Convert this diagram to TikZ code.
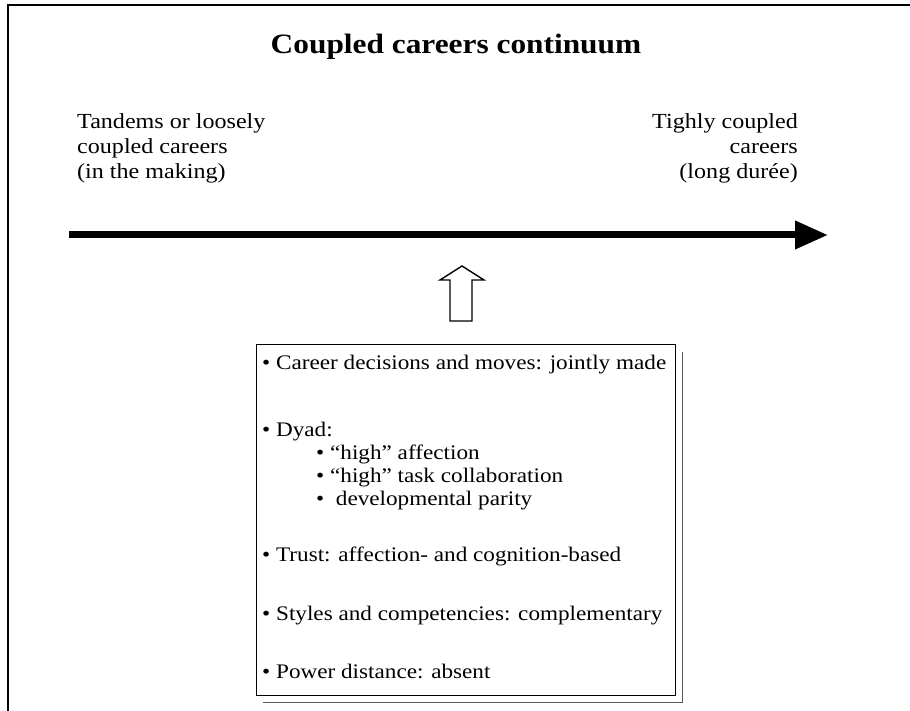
\documentclass[tikz,border=0pt]{standalone}
\usepackage{fontspec}
\setmainfont[FakeStretch=1.12]{Liberation Serif}
\usetikzlibrary{arrows.meta,calc}
\begin{document}
\begin{tikzpicture}[x=1pt,y=1pt,
  lbl/.style={inner sep=0pt, font=\fontsize{21.5}{25}\selectfont},
  boxtxt/.style={inner sep=0pt, anchor=base west, font=\fontsize{20.7}{24}\selectfont},
  bigarrow/.style={line width=7pt, -{Triangle[length=33pt,width=27pt]}},
  hollow/.style={line width=1.4pt, line join=miter, fill=white},
  frame/.style={line width=2pt}]
\useasboundingbox (0,0) rectangle (910,-711);
% frame
\coordinate (fbl) at (8,-711);
\coordinate (ftl) at (8,-5);
\coordinate (ftr) at (910,-5);
\draw[frame] (fbl) -- (ftl) -- (ftr);
% title
\node[inner sep=0pt, anchor=base, font=\fontsize{28}{30}\selectfont\bfseries] (title) at (456,-54) {Coupled careers continuum};
% left label
\node[lbl, anchor=base west] (l1) at (77,-129) {Tandems or loosely};
\node[lbl, anchor=base west] (l2) at (77,-154) {coupled careers};
\node[lbl, anchor=base west] (l3) at (77,-179) {(in the making)};
% right label
\node[lbl, anchor=base east] (r1) at (798,-129) {Tighly coupled};
\node[lbl, anchor=base east] (r2) at (798,-154) {careers};
\node[lbl, anchor=base east] (r3) at (798,-179) {(long durée)};
% continuum arrow
\coordinate (cs) at (69,-235);
\coordinate (ce) at (828,-235);
\draw[bigarrow] (cs) -- (ce);
% shadow and box
\draw[gray!70!black, line width=1pt] (263,-702) -- (682,-702) -- (682,-352);
\node[draw, line width=1.3pt, fill=white, anchor=north west, minimum width=419pt, minimum height=351pt, inner sep=0pt] (box) at (256,-344) {};
% hollow arrow
\coordinate (up) at (461,-321);
\draw[hollow] ($(up)+(-11,0)$) -- ++(0,41) -- ++(-10,0) -- ($(up)+(1,55)$) -- ($(up)+(23,41)$) -- ++(-12,0) -- ($(up)+(11,0)$) -- cycle;
% box text
\node[boxtxt] (t1) at (262,-369) {• Career decisions and moves: jointly made};
\node[boxtxt] (t2) at (262,-436) {• Dyad:};
\node[boxtxt] (t3) at (316,-459) {• “high” affection};
\node[boxtxt] (t4) at (316,-482) {• “high” task collaboration};
\node[boxtxt] (t5) at (316,-505) {•\ \ developmental parity};
\node[boxtxt] (t6) at (262,-561) {• Trust: affection- and cognition-based};
\node[boxtxt] (t7) at (262,-620) {• Styles and competencies: complementary};
\node[boxtxt] (t8) at (262,-678) {• Power distance: absent};
\end{tikzpicture}
\end{document}
